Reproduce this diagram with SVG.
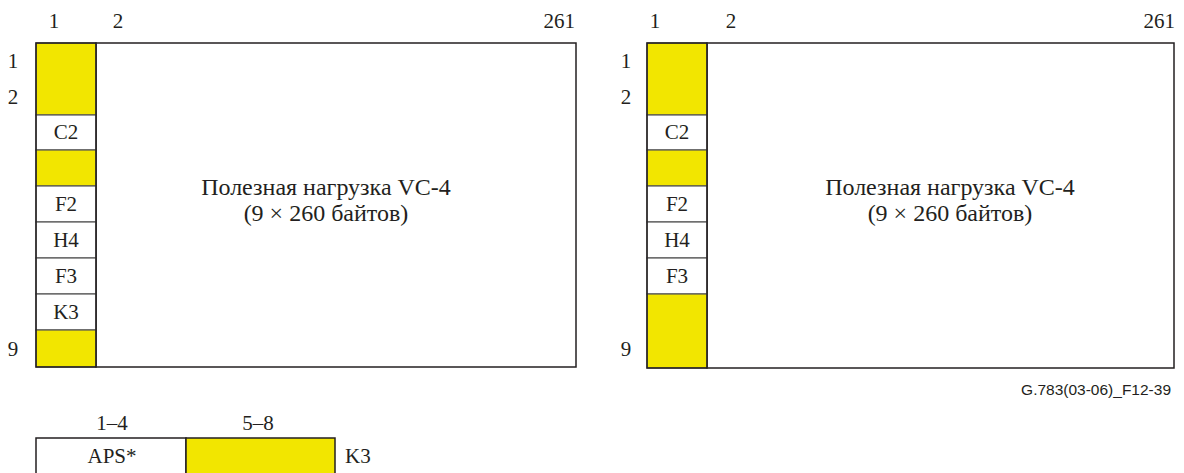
<svg xmlns="http://www.w3.org/2000/svg" width="1184" height="473" viewBox="0 0 1184 473" font-family="Liberation Serif, Times New Roman, serif">
<style>
text{font-size:21px;fill:#231f20}
.c{text-anchor:middle}
.e{text-anchor:end}
.cell{stroke:#555;stroke-width:1.2}
.frame{fill:none;stroke:#231f20;stroke-width:1.5}
.w{fill:#fff}
.y{fill:#f2e600}
.main{font-size:24px}
.fig{font-size:15.5px}
</style>
<rect width="1184" height="473" fill="#fff"/>
<g id="left">
<g id="left-labels">
<text x="54" y="28" class="c">1</text>
<text x="118" y="28" class="c">2</text>
<text x="575" y="28" class="e">261</text>
<text x="13" y="68" class="c">1</text>
<text x="13" y="104" class="c">2</text>
<text x="13" y="356" class="c">9</text>
</g>
<rect id="left-payload" x="96" y="43" width="480" height="324" class="frame w"/>
<g id="left-col">
<rect x="36" y="43" width="60" height="72" class="cell y"/>
<rect x="36" y="115" width="60" height="35" class="cell w"/>
<text x="66" y="139" class="c">C2</text>
<rect x="36" y="150" width="60" height="36" class="cell y"/>
<rect x="36" y="186" width="60" height="36" class="cell w"/>
<text x="66" y="211" class="c">F2</text>
<rect x="36" y="222" width="60" height="36" class="cell w"/>
<text x="66" y="247" class="c">H4</text>
<rect x="36" y="258" width="60" height="36" class="cell w"/>
<text x="66" y="283" class="c">F3</text>
<rect x="36" y="294" width="60" height="36" class="cell w"/>
<text x="66" y="319" class="c">K3</text>
<rect x="36" y="330" width="60" height="37" class="cell y"/>
<rect x="36" y="43" width="60" height="324" class="frame"/>
</g>
<text x="326" y="195" class="c main">Полезная нагрузка VC-4</text>
<text x="326" y="221" class="c main">(9 × 260 байтов)</text>
</g>
<g id="right">
<g id="right-labels">
<text x="655" y="28" class="c">1</text>
<text x="731" y="28" class="c">2</text>
<text x="1175" y="28" class="e">261</text>
<text x="626" y="68" class="c">1</text>
<text x="626" y="104" class="c">2</text>
<text x="626" y="356" class="c">9</text>
</g>
<rect id="right-payload" x="707" y="43" width="467" height="325" class="frame w"/>
<g id="right-col">
<rect x="647" y="43" width="60" height="72" class="cell y"/>
<rect x="647" y="115" width="60" height="35" class="cell w"/>
<text x="677" y="139" class="c">C2</text>
<rect x="647" y="150" width="60" height="36" class="cell y"/>
<rect x="647" y="186" width="60" height="36" class="cell w"/>
<text x="677" y="211" class="c">F2</text>
<rect x="647" y="222" width="60" height="36" class="cell w"/>
<text x="677" y="247" class="c">H4</text>
<rect x="647" y="258" width="60" height="36" class="cell w"/>
<text x="677" y="283" class="c">F3</text>
<rect x="647" y="294" width="60" height="74" class="cell y"/>
<rect x="647" y="43" width="60" height="325" class="frame"/>
</g>
<text x="950" y="195" class="c main">Полезная нагрузка VC-4</text>
<text x="950" y="221" class="c main">(9 × 260 байтов)</text>
</g>
<text id="figref" x="1171" y="395" class="e fig" font-family="Liberation Sans, Arial, sans-serif">G.783(03-06)_F12-39</text>
<g id="k3-byte">
<text x="112" y="430" class="c">1–4</text>
<text x="258" y="430" class="c">5–8</text>
<rect x="36" y="438" width="150" height="40" class="frame w"/>
<rect x="186" y="438" width="149" height="40" class="frame y"/>
<text x="112" y="463" class="c">APS*</text>
<text x="345" y="463">K3</text>
</g>
<g id="connectors"/>
</svg>
